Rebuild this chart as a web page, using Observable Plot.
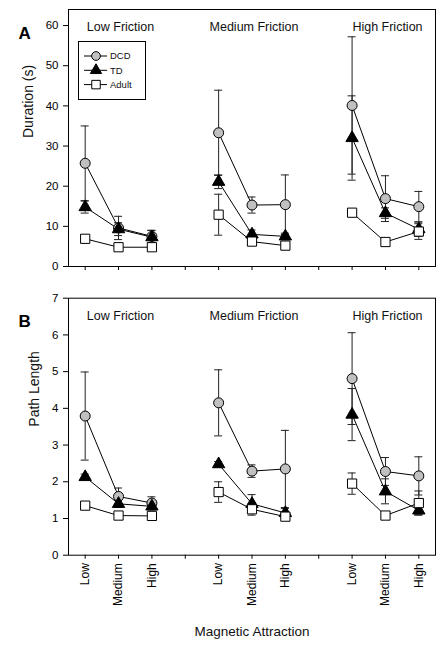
<!DOCTYPE html>
<html><head><meta charset="utf-8">
<script src="https://cdn.jsdelivr.net/npm/d3@7"></script>
<script src="https://cdn.jsdelivr.net/npm/@observablehq/plot@0.6"></script>
<style>
body{margin:0;background:#fff;}
#chart{position:relative;width:445px;height:654px;font-family:"Liberation Sans",Arial,sans-serif;background:#fff;}
#chart svg{position:absolute;left:0;overflow:visible;}
</style></head><body><div id="chart"></div>
<script>
const frictions = ["Low Friction", "Medium Friction", "High Friction"];
const attractions = ["Low", "Medium", "High"];
const groups = ["DCD", "TD", "Adult"];

// Duration (s): 9 values per group, Low/Medium/High attraction within Low, Medium, High friction
const durDCD = [25.7, 9.6, 7.5, 33.3, 15.3, 15.4, 40.1, 16.9, 14.9];
const durDCDErr = [9.3, 2.9, 1.5, 10.6, 2.0, 7.4, 17.1, 5.7, 3.8];
const durTD = [14.8, 9.3, 7.3, 21.1, 8.0, 7.5, 32.0, 13.3, 9.3];
const durTDErr = [1.5, 1.6, 1.7, 1.7, 1.1, 0.8, 10.5, 1.3, 1.8];
const durAdult = [6.9, 4.8, 4.8, 12.9, 6.2, 5.2, 13.4, 6.1, 8.7];
const durAdultErr = [0.9, 0.6, 0.6, 5.1, 0.5, 0.4, 0.5, 0.5, 1.95];

// Path length
const pathDCD = [3.79, 1.60, 1.42, 4.15, 2.29, 2.35, 4.81, 2.28, 2.16];
const pathDCDErr = [1.2, 0.23, 0.17, 0.9, 0.17, 1.05, 1.25, 0.38, 0.52];
const pathTD = [2.13, 1.40, 1.33, 2.48, 1.40, 1.15, 3.83, 1.74, 1.22];
const pathTDErr = [0.08, 0.10, 0.10, 0.07, 0.25, 0.12, 0.71, 0.34, 0.12];
const pathAdult = [1.35, 1.08, 1.07, 1.72, 1.25, 1.05, 1.95, 1.08, 1.42];
const pathAdultErr = [0.05, 0.04, 0.04, 0.28, 0.16, 0.05, 0.29, 0.04, 0.33];

const yTicksA = [0, 10, 20, 30, 40, 50, 60];
const yTicksB = [0, 1, 2, 3, 4, 5, 6, 7];

function buildRows(series) {
  const rows = [];
  series.forEach(([group, vals, errs]) => {
    vals.forEach((v, i) => {
      const f = Math.floor(i / 3), a = i % 3;
      rows.push({group, friction: frictions[f], attraction: attractions[a], x: f * 4 + a, v, e: errs[i]});
    });
  });
  return rows;
}
const rowsA = buildRows([["DCD", durDCD, durDCDErr], ["TD", durTD, durTDErr], ["Adult", durAdult, durAdultErr]]);
const rowsB = buildRows([["DCD", pathDCD, pathDCDErr], ["TD", pathTD, pathTDErr], ["Adult", pathAdult, pathAdultErr]]);

const xTicks = d3.range(0, 11);
const xFmt = d => d % 4 === 3 ? "" : attractions[d % 4];
const font = '"Liberation Sans", Arial, sans-serif';

function panel({rows, yDomain, yTicks, yLabel, yLabelDx, letter, height, marginTop, marginBottom, showX}) {
  const marks = [
    Plot.axisY({ticks: yTicks, tickFormat: d => String(d), tickSize: 5, tickPadding: 5, fontSize: 11.5, label: null}),
    Plot.axisX({ticks: xTicks, tickSize: 4, tickPadding: 4, tickRotate: showX ? -90 : 0,
      tickFormat: showX ? xFmt : () => "", fontSize: 12, label: null}),
    Plot.line(rows, {x: "x", y: "v", z: d => d.group + d.friction, stroke: "#000", strokeWidth: 1}),
    Plot.ruleX(rows, {x: "x", y1: d => d.v - d.e, y2: d => d.v + d.e, stroke: "#222", strokeWidth: 1}),
    Plot.ruleY(rows, {y: d => d.v + d.e, x1: d => d.x - 0.12, x2: d => d.x + 0.12, stroke: "#222", strokeWidth: 1}),
    Plot.ruleY(rows, {y: d => d.v - d.e, x1: d => d.x - 0.12, x2: d => d.x + 0.12, stroke: "#222", strokeWidth: 1}),
    Plot.dot(rows.filter(d => d.group === "DCD"), {x: "x", y: "v", symbol: "circle", r: 5, fill: "#c0c0c0", stroke: "#000", strokeWidth: 1}),
    Plot.dot(rows.filter(d => d.group === "TD"), {x: "x", y: "v", symbol: "triangle", r: 4.6, fill: "#000", stroke: "#000", strokeWidth: 1}),
    Plot.dot(rows.filter(d => d.group === "Adult"), {x: "x", y: "v", symbol: "square", r: 5.2, fill: "#fff", stroke: "#000", strokeWidth: 1}),
    Plot.frame({stroke: "#000", strokeWidth: 1}),
    Plot.text(frictions, {x: (d, i) => i * 4 + 1, frameAnchor: "top", dy: 13, dx: 2, fontSize: 12.5, fill: "#111"}),
    Plot.text([yLabel], {frameAnchor: "left", rotate: -90, dx: yLabelDx, fontSize: 14, fill: "#111"}),
    Plot.text([letter], {frameAnchor: "top-left", dx: -50, dy: 17, fontSize: 17, fontWeight: "bold", fill: "#000"})
  ];
  if (showX) marks.push(Plot.text(["Magnetic Attraction"], {frameAnchor: "bottom", dy: 81, fontSize: 13.5, fill: "#111"}));
  return Plot.plot({
    width: 445, height, marginLeft: 68, marginRight: 10, marginTop, marginBottom,
    style: {fontFamily: font, fontSize: "12px", color: "#000", background: "transparent", overflow: "visible"},
    x: {domain: [-0.5, 10.5]},
    y: {domain: yDomain},
    marks
  });
}

const chart = document.getElementById("chart");
const svgA = panel({rows: rowsA, yDomain: [0, 64], yTicks: yTicksA, yLabel: "Duration (s)", yLabelDx: -40,
  letter: "A", height: 290, marginTop: 9, marginBottom: 24, showX: false});
svgA.style.top = "0px";
chart.appendChild(svgA);
const svgB = panel({rows: rowsB, yDomain: [0, 7], yTicks: yTicksB, yLabel: "Path Length", yLabelDx: -34,
  letter: "B", height: 364, marginTop: 7.7, marginBottom: 99.3, showX: true});
svgB.style.top = "290px";
chart.appendChild(svgB);

// Legend
const leg = d3.select(chart).append("svg").attr("width", 68).attr("height", 60)
  .style("left", "77.5px").style("top", "40.5px").style("font-family", font);
leg.append("rect").attr("x", 0.5).attr("y", 0.5).attr("width", 67).attr("height", 58)
  .attr("fill", "#fff").attr("stroke", "#000");
const legSym = {DCD: "circle", TD: "triangle", Adult: "square"};
const legFill = {DCD: "#c0c0c0", TD: "#000", Adult: "#fff"};
const legSize = {DCD: 60, TD: 55, Adult: 72};
groups.forEach((g, i) => {
  const y = 15 + i * 14.3;
  leg.append("line").attr("x1", 6).attr("x2", 29).attr("y1", y).attr("y2", y).attr("stroke", "#000");
  const sym = legSym[g] === "circle" ? d3.symbolCircle : legSym[g] === "triangle" ? d3.symbolTriangle : d3.symbolSquare;
  leg.append("path").attr("d", d3.symbol(sym, legSize[g])()).attr("transform", `translate(18,${y})`)
    .attr("fill", legFill[g]).attr("stroke", "#000");
  leg.append("text").attr("x", 32).attr("y", y).attr("dy", "0.35em").attr("font-size", 9.5)
    .attr("fill", "#111").text(g);
});
</script></body></html>
